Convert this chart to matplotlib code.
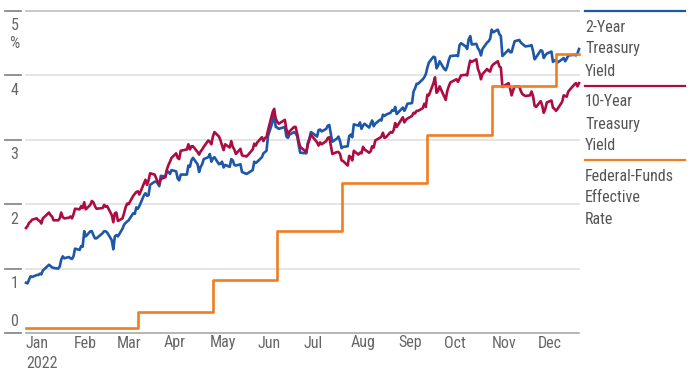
import matplotlib
matplotlib.use("Agg")
import matplotlib.pyplot as plt
import matplotlib.transforms as mtransforms
import matplotlib.dates as mdates
from matplotlib.lines import Line2D
from matplotlib import font_manager as fm
from matplotlib.textpath import TextPath
import pandas as pd

# ---------------- data ----------------
holidays = ["2022-01-17", "2022-02-21", "2022-04-15", "2022-05-30", "2022-06-20",
            "2022-07-04", "2022-09-05", "2022-10-10", "2022-11-11", "2022-11-24",
            "2022-12-26"]
start_date, end_date = "2022-01-03", "2022-12-30"

two_year = [
    # Jan
    0.78, 0.77, 0.83, 0.88, 0.87, 0.90, 0.90, 0.92, 0.91, 0.97, 1.06, 1.04, 1.02, 1.01, 1.00, 1.03, 1.14, 1.19, 1.16, 1.18,
    # Feb
    1.16, 1.15, 1.19, 1.31, 1.29, 1.35, 1.34, 1.58, 1.50, 1.58, 1.58, 1.52, 1.47, 1.47, 1.55, 1.58, 1.58, 1.56, 1.44,
    # Mar
    1.30, 1.50, 1.52, 1.50, 1.62, 1.68, 1.71, 1.73, 1.75, 1.86, 1.85, 1.95, 1.93, 1.97, 2.14, 2.17, 2.13, 2.14, 2.30, 2.35, 2.35, 2.32, 2.28,
    # Apr
    2.44, 2.43, 2.52, 2.50, 2.47, 2.53, 2.51, 2.40, 2.37, 2.46, 2.46, 2.60, 2.58, 2.68, 2.72, 2.62, 2.50, 2.58, 2.62, 2.70,
    # May
    2.73, 2.78, 2.66, 2.71, 2.73, 2.62, 2.63, 2.66, 2.57, 2.61, 2.58, 2.70, 2.68, 2.61, 2.60, 2.62, 2.50, 2.49, 2.48, 2.47, 2.53,
    # Jun
    2.66, 2.64, 2.66, 2.73, 2.79, 2.81, 2.83, 3.06, 3.28, 3.43, 3.20, 3.19, 3.17, 3.20, 3.05, 3.03, 3.08, 3.12, 3.10, 3.06, 2.92,
    # Jul
    2.80, 2.79, 2.95, 3.02, 3.12, 3.07, 3.05, 3.15, 3.16, 3.13, 3.17, 3.22, 3.23, 3.09, 2.97, 3.02, 3.05, 2.98, 2.87, 2.89,
    # Aug
    2.90, 3.06, 3.08, 3.04, 3.24, 3.22, 3.27, 3.17, 3.22, 3.25, 3.19, 3.25, 3.30, 3.21, 3.25, 3.31, 3.30, 3.39, 3.37, 3.39, 3.42, 3.46, 3.45,
    # Sep
    3.51, 3.40, 3.50, 3.45, 3.50, 3.56, 3.57, 3.75, 3.80, 3.87, 3.87, 3.94, 3.97, 4.02, 4.12, 4.20, 4.29, 4.28, 4.11, 4.15, 4.22,
    # Oct
    4.10, 4.08, 4.14, 4.24, 4.30, 4.31, 4.30, 4.47, 4.50, 4.45, 4.41, 4.56, 4.61, 4.48, 4.49, 4.42, 4.39, 4.31, 4.41, 4.51,
    # Nov
    4.53, 4.57, 4.71, 4.67, 4.71, 4.64, 4.61, 4.30, 4.40, 4.36, 4.36, 4.45, 4.53, 4.55, 4.51, 4.49, 4.45, 4.46, 4.47, 4.38,
    # Dec
    4.25, 4.28, 4.39, 4.38, 4.27, 4.31, 4.34, 4.37, 4.21, 4.23, 4.24, 4.20, 4.25, 4.27, 4.22, 4.26, 4.31, 4.32, 4.31, 4.34, 4.41,
]

ten_year = [
    # Jan
    1.63, 1.66, 1.71, 1.73, 1.76, 1.78, 1.75, 1.74, 1.70, 1.78, 1.87, 1.83, 1.81, 1.75, 1.75, 1.78, 1.87, 1.80, 1.78, 1.79,
    # Feb
    1.81, 1.78, 1.84, 1.93, 1.92, 1.97, 1.94, 2.03, 1.92, 1.99, 2.05, 2.03, 1.97, 1.93, 1.94, 1.99, 1.96, 1.97, 1.83,
    # Mar
    1.72, 1.86, 1.87, 1.74, 1.78, 1.86, 1.95, 2.01, 2.00, 2.13, 2.16, 2.19, 2.20, 2.15, 2.32, 2.38, 2.30, 2.37, 2.48, 2.46, 2.40, 2.35, 2.32,
    # Apr
    2.39, 2.42, 2.54, 2.61, 2.66, 2.72, 2.79, 2.72, 2.70, 2.83, 2.85, 2.93, 2.85, 2.90, 2.90, 2.81, 2.77, 2.82, 2.85, 2.89,
    # May
    2.99, 2.97, 2.93, 3.05, 3.12, 3.05, 2.99, 2.91, 2.84, 2.93, 2.88, 2.98, 2.89, 2.85, 2.78, 2.86, 2.76, 2.75, 2.75, 2.74, 2.85,
    # Jun
    2.94, 2.91, 2.96, 3.04, 2.98, 3.03, 3.04, 3.15, 3.43, 3.48, 3.33, 3.28, 3.25, 3.31, 3.16, 3.09, 3.13, 3.20, 3.20, 3.10, 2.98,
    # Jul
    2.89, 2.81, 2.93, 3.00, 3.08, 2.99, 2.96, 2.91, 2.96, 2.93, 2.98, 3.03, 3.04, 2.91, 2.78, 2.81, 2.81, 2.78, 2.68, 2.67,
    # Aug
    2.60, 2.75, 2.73, 2.68, 2.83, 2.77, 2.80, 2.79, 2.89, 2.85, 2.80, 2.82, 2.90, 2.88, 2.99, 3.03, 3.05, 3.11, 3.03, 3.04, 3.12, 3.11, 3.15,
    # Sep
    3.26, 3.20, 3.35, 3.27, 3.31, 3.33, 3.37, 3.42, 3.41, 3.45, 3.45, 3.49, 3.56, 3.51, 3.70, 3.69, 3.88, 3.97, 3.73, 3.76, 3.83,
    # Oct
    3.67, 3.62, 3.76, 3.83, 3.89, 3.94, 3.90, 3.95, 4.00, 4.01, 4.00, 4.13, 4.23, 4.21, 4.25, 4.10, 4.04, 3.94, 4.02, 4.10,
    # Nov
    4.07, 4.06, 4.14, 4.17, 4.22, 4.14, 4.12, 3.82, 3.88, 3.80, 3.69, 3.77, 3.83, 3.83, 3.76, 3.71, 3.68, 3.69, 3.75, 3.68,
    # Dec
    3.53, 3.51, 3.60, 3.53, 3.42, 3.48, 3.58, 3.61, 3.50, 3.48, 3.45, 3.48, 3.59, 3.69, 3.68, 3.67, 3.75, 3.86, 3.88, 3.83, 3.88,
]

fed_change_dates = ["2022-01-03", "2022-03-17", "2022-05-05", "2022-06-16", "2022-07-28",
                    "2022-09-22", "2022-11-03", "2022-12-15"]
fed_rates = [0.08, 0.33, 0.83, 1.58, 2.33, 3.08, 3.83, 4.33]

month_labels = ["Jan", "Feb", "Mar", "Apr", "May", "Jun", "Jul", "Aug", "Sep", "Oct", "Nov", "Dec"]
y_ticks = [0, 1, 2, 3, 4, 5]
series_names = ["2-Year\nTreasury\nYield", "10-Year\nTreasury\nYield", "Federal-Funds\nEffective\nRate"]

# ---------------- font choice (narrow face if installed) ----------------
def pick_font():
    fl = fm.fontManager.ttflist
    for want in ["Liberation Sans Narrow", "Roboto Condensed", "Open Sans Condensed"]:
        for f in fl:
            if f.name == want and f.weight in (400, "normal", "regular") and f.style == "normal":
                return fm.FontProperties(fname=f.fname)
    for f in fl:
        if "dejavusanscondensed.ttf" in f.fname.lower():
            return fm.FontProperties(fname=f.fname)
    return fm.FontProperties(family=["Roboto", "DejaVu Sans"])

FP = pick_font()
# size the text so "Federal-Funds" is about as wide as in the reference (~87 px)
_p = FP.copy()
_p.set_size(10)
_w = TextPath((0, 0), "Federal-Funds", prop=_p).get_extents().width * 100 / 72
FS = max(9.5, min(11.5, 10 * 87 / _w))

# ---------------- styling ----------------
BLUE = "#1f57a8"
RED = "#ad0c41"
ORANGE = "#f07d22"
TXT = "#666666"

def txt(x, y, s, **kw):
    p = FP.copy()
    p.set_size(FS)
    return fig.text(x, y, s, fontproperties=p, **kw)

W, H = 695, 392
fig = plt.figure(figsize=(W / 100, H / 100), dpi=100)
L, R, T, B = 26, 579, 11, 333
ax = fig.add_axes([L / W, 1 - B / H, (R - L) / W, (B - T) / H])

dates = pd.bdate_range(start_date, end_date, freq="C", holidays=holidays)
assert len(dates) == len(two_year) == len(ten_year)

fed_x = list(pd.to_datetime(fed_change_dates)) + [pd.Timestamp(end_date)]
fed_y = fed_rates + [fed_rates[-1]]

ax.plot(dates, two_year, color=BLUE, lw=1.9, zorder=3, clip_on=False)
ax.plot(dates, ten_year, color=RED, lw=1.9, zorder=4, clip_on=False)
ax.step(fed_x, fed_y, where="post", color=ORANGE, lw=1.9, zorder=5, clip_on=False)

ax.set_xlim(pd.Timestamp(start_date), pd.Timestamp(end_date))
ax.set_ylim(0, 5)
for s in ax.spines.values():
    s.set_visible(False)
ax.set_xticks([])
ax.set_yticks([])

# gridlines
for v in y_ticks:
    if v == 0:
        ax.axhline(v, color="#a9a9a9", lw=1.2, zorder=2, clip_on=False)
    elif v == 5:
        ax.axhline(v, color="#c8c8c8", lw=1.4, zorder=1, clip_on=False)
    else:
        ax.axhline(v, color="#e0e0e0", lw=1.2, zorder=1, clip_on=False)

# left tick marks and labels
blend = mtransforms.blended_transform_factory(fig.transFigure, ax.transData)
for v in y_ticks:
    fig.add_artist(Line2D([5 / W, 21 / W], [v, v], transform=blend, color="#8a8a8a", lw=1.3))
    dy = 12 if v == 0 else -15
    tr = mtransforms.offset_copy(blend, fig=fig, x=0, y=dy, units="dots")
    txt(14.5 / W, v, str(v), transform=tr, ha="center", va="center", color=TXT)
tr = mtransforms.offset_copy(blend, fig=fig, x=0, y=-32, units="dots")
txt(14.5 / W, 5, "%", transform=tr, ha="center", va="center", color=TXT)

# month labels
xblend = mtransforms.blended_transform_factory(ax.transData, fig.transFigure)
tr = mtransforms.offset_copy(xblend, fig=fig, x=3, y=0, units="dots")
for i, name in enumerate(month_labels):
    d = mdates.date2num(pd.Timestamp(2022, i + 1, 1))
    txt(d, 1 - 343 / H, name, transform=tr, ha="left", va="center", color=TXT)
txt(mdates.date2num(pd.Timestamp(2022, 1, 1)), 1 - 363 / H, "2022", transform=tr,
    ha="left", va="center", color=TXT)

# legend on right
leg_colors = [BLUE, RED, ORANGE]
leg_tops = [11, 86, 160]
for name, c, yt in zip(series_names, leg_colors, leg_tops):
    fig.add_artist(Line2D([585 / W, 685 / W], [1 - yt / H, 1 - yt / H], transform=fig.transFigure,
                          color=c, lw=1.6))
    for j, line in enumerate(name.split("\n")):
        txt(585 / W, 1 - (yt + 16 + 22 * j) / H, line, ha="left", va="center", color="#555555")

fig.savefig("out.png", dpi=100)
